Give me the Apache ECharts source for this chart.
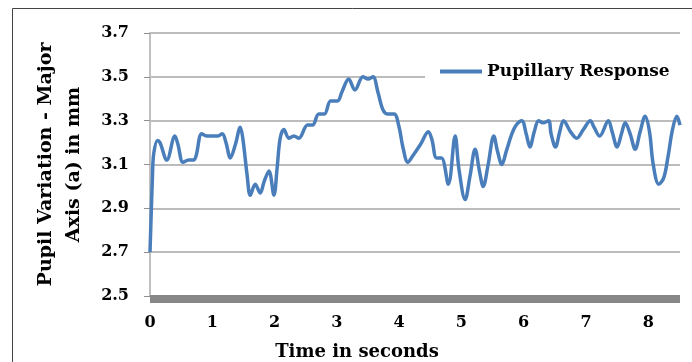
<!DOCTYPE html>
<html>
<head>
<meta charset="utf-8">
<script src="https://cdn.jsdelivr.net/npm/echarts@6/dist/echarts.min.js"></script>
<style>html,body{margin:0;padding:0;background:#fff;}#c{width:692px;height:362px;}</style>
</head>
<body>
<div id="c"></div>
<script>
var times = [0.00,0.04,0.06,0.12,0.16,0.27,0.40,0.45,0.53,0.62,0.70,0.74,0.83,0.91,1.01,1.09,1.16,1.22,1.29,1.37,1.45,1.49,1.56,1.61,1.69,1.77,1.83,1.91,1.99,2.04,2.09,2.15,2.23,2.31,2.39,2.53,2.61,2.71,2.80,2.90,3.01,3.08,3.19,3.29,3.42,3.50,3.58,3.66,3.74,3.82,3.92,4.00,4.06,4.14,4.22,4.34,4.47,4.53,4.60,4.68,4.79,4.90,4.96,5.06,5.14,5.22,5.29,5.35,5.43,5.52,5.58,5.65,5.72,5.81,5.88,5.97,6.04,6.10,6.17,6.24,6.31,6.40,6.44,6.51,6.58,6.64,6.75,6.85,6.96,7.07,7.13,7.22,7.36,7.42,7.50,7.57,7.63,7.71,7.79,7.87,7.95,8.02,8.08,8.17,8.25,8.32,8.39,8.46,8.51];
var response = [2.70,3.05,3.15,3.21,3.20,3.12,3.23,3.19,3.11,3.12,3.12,3.14,3.24,3.23,3.23,3.23,3.24,3.20,3.13,3.19,3.27,3.22,3.05,2.96,3.01,2.97,3.02,3.07,2.96,3.08,3.22,3.26,3.22,3.23,3.22,3.28,3.28,3.33,3.33,3.39,3.39,3.43,3.49,3.44,3.50,3.49,3.50,3.43,3.35,3.33,3.33,3.27,3.18,3.11,3.14,3.19,3.25,3.21,3.13,3.13,3.01,3.23,3.08,2.94,3.05,3.17,3.07,3.00,3.10,3.23,3.16,3.10,3.16,3.24,3.28,3.30,3.24,3.18,3.25,3.30,3.29,3.30,3.24,3.18,3.25,3.30,3.25,3.22,3.26,3.30,3.27,3.23,3.30,3.25,3.18,3.24,3.29,3.24,3.17,3.25,3.32,3.25,3.10,3.01,3.04,3.14,3.26,3.32,3.28];
var xTicks = [0,1,2,3,4,5,6,7,8];
var yTicks = [2.5,2.7,2.9,3.1,3.3,3.5,3.7];
var seriesName = 'Pupillary Response';
var xTitle = 'Time in seconds';
var yTitle = 'Pupil Variation - Major\nAxis (a) in mm';

var data = times.map(function(t,i){return [t, response[i]];});
var font = 'DejaVu Serif';
var chart = echarts.init(document.getElementById('c'), null, {renderer:'canvas'});
chart.setOption({
  animation:false,
  backgroundColor:'#fff',
  graphic:[{type:'rect', shape:{x:12.5,y:8.5,width:700,height:400}, style:{fill:'none', stroke:'#444', lineWidth:1}, silent:true, z:-1}],
  grid:{left:150, right:12, top:33, bottom:66, containLabel:false, outerBoundsMode:'none'},
  legend:{
    left:425, top:57, padding:[6,30,6,15], backgroundColor:'#fff',
    icon:'rect', itemWidth:42, itemHeight:4, itemGap:6,
    textStyle:{fontFamily:font, fontWeight:'bold', fontSize:17, color:'#000'},
    data:[seriesName]
  },
  xAxis:{
    type:'value', min:0, max:8.51, interval:1, offset:3,
    name:xTitle, nameLocation:'middle', nameGap:44,
    nameTextStyle:{fontFamily:font, fontWeight:'bold', fontSize:18, color:'#000', padding:[0,116,0,0]},
    axisLine:{show:true, lineStyle:{color:'#878787', width:8, cap:'butt'}},
    axisTick:{show:false},
    splitLine:{show:false},
    axisLabel:{fontFamily:font, fontWeight:'bold', fontSize:16, color:'#000', margin:16,
      showMaxLabel:false,
      formatter:function(v){return xTicks.indexOf(v)>=0 ? String(v) : '';}}
  },
  yAxis:{
    type:'value', min:2.5, max:3.7, interval:0.2,
    name:yTitle, nameLocation:'middle', nameGap:62,
    nameTextStyle:{fontFamily:font, fontWeight:'bold', fontSize:19, color:'#000', lineHeight:28},
    axisLine:{show:true, lineStyle:{color:'#c0c0c0', width:2}},
    axisTick:{show:true, length:6, lineStyle:{color:'#909090'}},
    splitLine:{show:true, lineStyle:{color:'#a6a6a6', width:1.5}},
    axisLabel:{fontFamily:font, fontWeight:'bold', fontSize:16, color:'#000', margin:21,
      formatter:function(v){var r=Math.round(v*10)/10; return yTicks.indexOf(r)>=0 ? r.toFixed(1) : '';}}
  },
  series:[{
    name:seriesName, type:'line', data:data, smooth:0.35, showSymbol:false, symbol:'none',
    lineStyle:{color:'#4a7ebb', width:3.5}, itemStyle:{color:'#4a7ebb'}, z:3
  }]
});
</script>
</body>
</html>
